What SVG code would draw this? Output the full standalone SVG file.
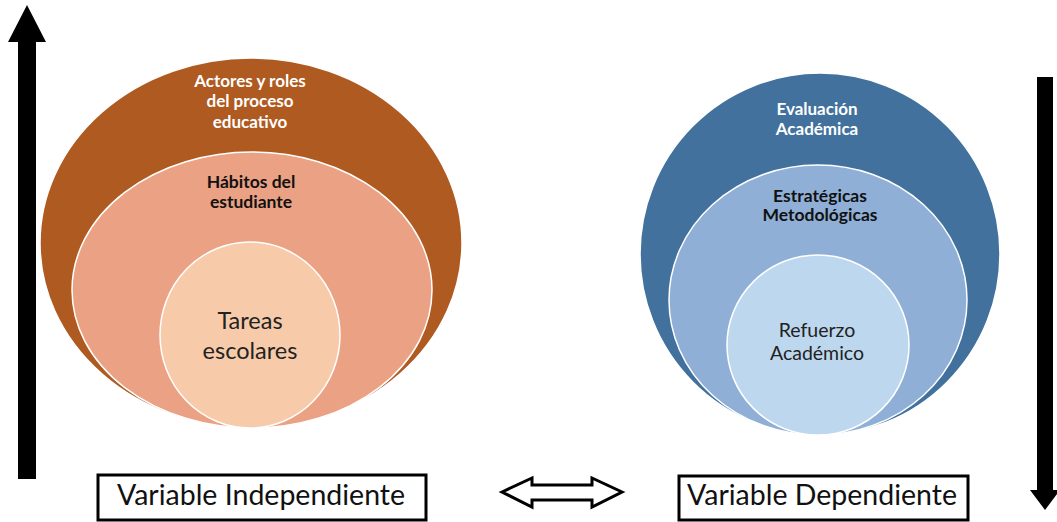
<svg xmlns="http://www.w3.org/2000/svg" width="1057" height="522" viewBox="0 0 1057 522">
<style>
.ring{stroke:#ffffff;stroke-width:1.5}
.t{font-family:Lato,"Open Sans","Liberation Sans",sans-serif;text-anchor:middle}
.w{fill:#ffffff;font-weight:bold;font-size:17px}
.b{fill:#111111;font-weight:bold;font-size:17.5px}
.n{fill:#222222;font-size:23.5px}
.box{fill:#ffffff;stroke:#000000;stroke-width:3}
.lbl{font-family:Lato,"Open Sans","Liberation Sans",sans-serif;font-size:28.5px;fill:#111111;text-anchor:middle}
</style>
<rect width="1057" height="522" fill="#ffffff"/>
<g id="connectors">
<path id="arrow-up" d="M18,479 L18,42 L8,42 L27,5 L46,42 L36,42 L36,479 Z" fill="#000000"/>
<path id="arrow-down" d="M1037,77 L1053,77 L1053,490 L1060,490 L1045,510 L1030,490 L1037,490 Z" fill="#000000"/>
<path id="arrow-both" d="M502,492 L532,478 L532,485 L592,485 L592,478 L622,492 L592,507 L592,500 L532,500 L532,507 Z" fill="#ffffff" stroke="#000000" stroke-width="3" stroke-linejoin="miter"/>
</g>
<g id="left-outer">
<ellipse class="ring" cx="251" cy="243" rx="211" ry="185" fill="#AE5A21"/>
<text class="t w" x="250" y="87">Actores y roles</text>
<text class="t w" x="250" y="107">del proceso</text>
<text class="t w" x="250" y="128">educativo</text>
</g>
<g id="left-middle">
<ellipse class="ring" cx="252" cy="290" rx="180" ry="138" fill="#EBA183"/>
<text class="t b" x="251" y="188">Hábitos del</text>
<text class="t b" x="251" y="208">estudiante</text>
</g>
<g id="left-inner">
<ellipse class="ring" cx="250" cy="335" rx="90" ry="93" fill="#F7CBAA"/>
<text class="t n" x="250" y="329">Tareas</text>
<text class="t n" x="250" y="359">escolares</text>
</g>
<g id="right-outer">
<ellipse class="ring" cx="820" cy="254" rx="180" ry="181" fill="#41719C"/>
<text class="t w" x="817" y="115">Evaluación</text>
<text class="t w" x="817" y="135">Académica</text>
</g>
<g id="right-middle">
<ellipse class="ring" cx="818" cy="300" rx="149" ry="135" fill="#8FAFD6"/>
<text class="t b" x="820" y="202">Estratégicas</text>
<text class="t b" x="820" y="221">Metodológicas</text>
</g>
<g id="right-inner">
<ellipse class="ring" cx="818" cy="345" rx="91" ry="90" fill="#BDD7EE"/>
<text class="t n" x="817" y="337" style="font-size:19.5px">Refuerzo</text>
<text class="t n" x="817" y="360" style="font-size:19.5px">Académico</text>
</g>
<g id="box-independiente">
<rect class="box" x="98" y="475" width="328" height="45"/>
<text class="lbl" x="261" y="505">Variable Independiente</text>
</g>
<g id="box-dependiente">
<rect class="box" x="679" y="476" width="289" height="44"/>
<text class="lbl" x="822" y="505">Variable Dependiente</text>
</g>
</svg>
